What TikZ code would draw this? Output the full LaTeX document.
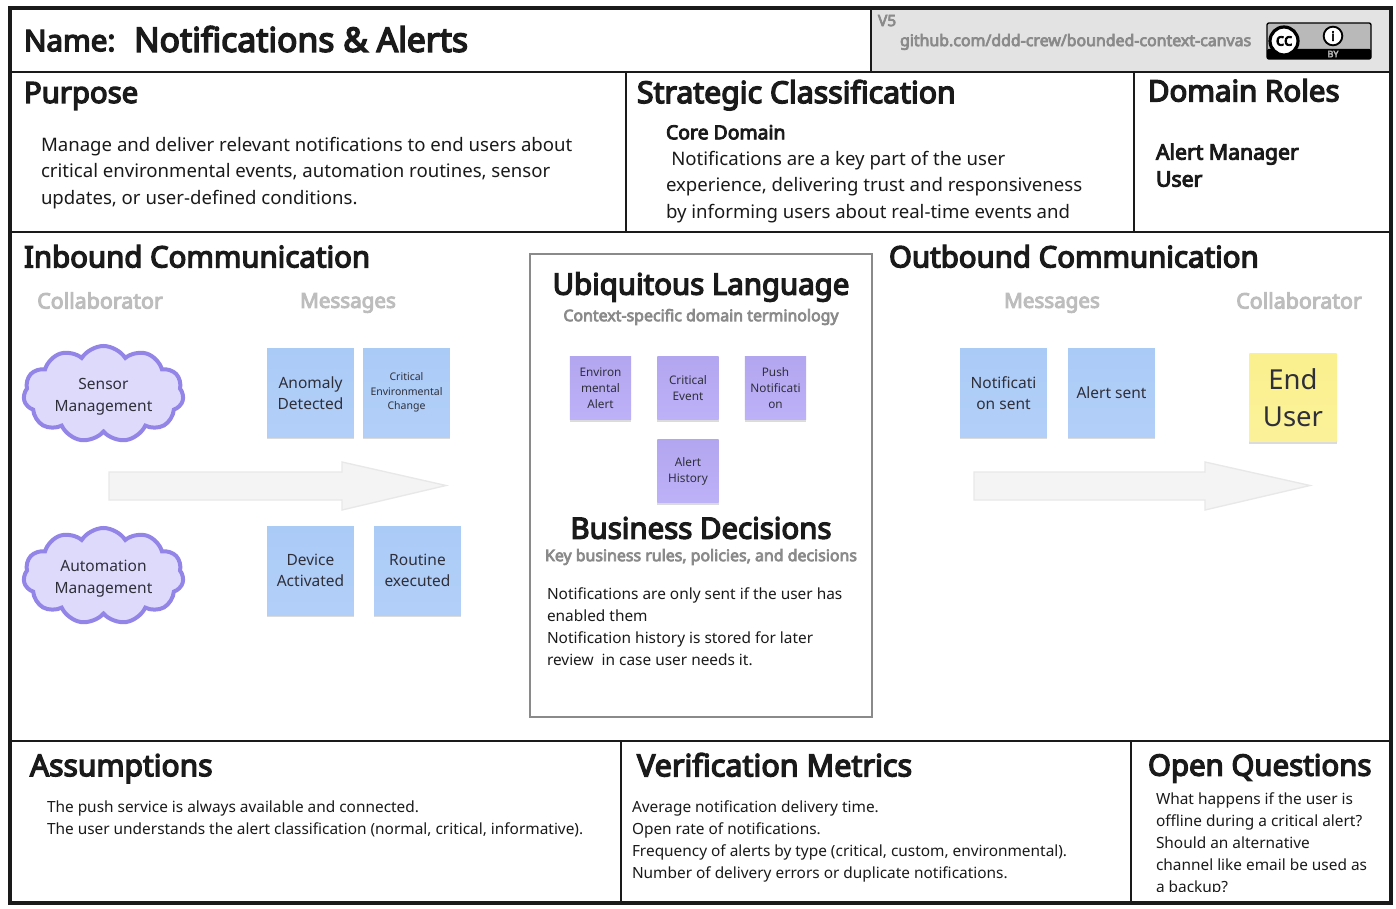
\documentclass[tikz,border=0pt]{standalone}
\usepackage{fontspec}
\setmainfont{Noto Sans}[BoldFont={Noto Sans},BoldFeatures={FakeBold=4.5}]
\usetikzlibrary{shapes.symbols,shadows}
\definecolor{ink}{HTML}{1A1A1A}
\definecolor{soft}{HTML}{2F2F3A}
\definecolor{hint}{HTML}{BDBDBD}
\definecolor{hintb}{HTML}{8A8A8A}
\definecolor{cloudline}{HTML}{9385E8}
\definecolor{cloudfill}{HTML}{DEDAFC}
\definecolor{noteblue}{HTML}{ABCBF7}
\definecolor{purpletop}{HTML}{B3A6F0}
\definecolor{purplebot}{HTML}{BDB1F8}
\definecolor{arrowline}{HTML}{E8E8E8}
\definecolor{arrowfill}{HTML}{F4F4F4}
\definecolor{noteyellow}{HTML}{FBF08E}
\newcommand{\pxs}[2]{\fontsize{\dimexpr#1pt*3/4\relax}{\dimexpr#2pt*3/4\relax}\selectfont}
\newcommand{\cloudlead}{\rule{0pt}{12.5pt}}
\tikzset{
  x=0.75pt,y=-0.75pt,
  frameline/.style={draw=ink,line width=2.6pt},
  innerline/.style={draw=ink,line width=1.7pt},
  label/.style={inner sep=0pt,outer sep=0pt,anchor=north west,align=left,text=ink},
  heading/.style={label,font=\bfseries\pxs{#1}{34}},
  heading/.default={29.5},
  bigheading/.style={inner sep=0pt,anchor=center,text=ink,font=\bfseries\pxs{29.4}{34}},
  subhead/.style={inner sep=0pt,anchor=center,text=hintb,font=\bfseries\pxs{15.9}{18}},
  greyhead/.style={inner sep=0pt,anchor=center,text=hint,font=\bfseries\pxs{#1}{24}},
  body/.style={label,font=\pxs{18.6}{26.4}},
  small/.style={label,font=\pxs{15.4}{22}},
  sticky/.style={inner sep=0pt,anchor=center,align=center,text=soft,draw=none,
    drop shadow={opacity=.14,shadow xshift=0pt,shadow yshift=-1.5pt,fill=black}},
  bluenote/.style={sticky,top color=noteblue,bottom color=noteblue!92!white,minimum width=65pt,minimum height=66.5pt,font=\pxs{15.5}{21}},
  purplenote/.style={sticky,top color=purpletop,bottom color=purplebot,minimum width=46pt,minimum height=47.5pt,font=\pxs{11.8}{16}},
  puffy/.style={cloud,cloud puffs=11,cloud puff arc=115,aspect=1.9,draw=cloudline,fill=cloudfill,line width=3pt,
    minimum width=120pt,minimum height=72pt,inner sep=0pt,align=center,text=soft,font=\pxs{15.5}{22}},
  bigarrow/.style={draw=arrowline,fill=arrowfill,line width=1pt},
}
\begin{document}
\begin{tikzpicture}
\useasboundingbox (0,0) rectangle (1396,909);
\fill[white] (0,0) rectangle (1396,909);
% header band
\fill[gray!22] (871,9) rectangle (1391,72);
% dividers
\draw[innerline] (11,72) -- (1391,72);
\draw[innerline] (11,232) -- (1391,232);
\draw[innerline] (11,741) -- (1391,741);
\draw[innerline] (871,9) -- (871,72);
\draw[innerline] (626,72) -- (626,232);
\draw[innerline] (1134,72) -- (1134,232);
\draw[innerline] (621,741) -- (621,903);
\draw[innerline] (1131,741) -- (1131,903);
\draw[frameline] (10,8) rectangle (1391,903);
% header
\node[heading=29.6] (nameA) at (24,30) {Name:};
\node[heading=33.7] (nameB) at (134,26) {Notifications \& Alerts};
\node[label,text=hintb,font=\bfseries\pxs{15.5}{18}] (ver) at (878,15) {V5};
\node[label,text=hintb,font=\bfseries\pxs{15.9}{18}] (repo) at (900,34) {github.com/ddd-crew/bounded-context-canvas};
% badge
\draw[fill=gray!55,draw=black,line width=1pt,rounded corners=1.5pt] (1267,23) rectangle (1371,59);
\fill[black,rounded corners=1pt] (1267,49) rectangle (1371,59);
\node[draw=black,fill=white,circle,line width=2.4pt,minimum size=21pt,inner sep=0pt,font=\bfseries\pxs{17}{18}] (cc) at (1284,41) {cc};
\node[draw=black,fill=white,circle,line width=1.4pt,minimum size=14pt,inner sep=0pt,font=\bfseries\pxs{13}{13}] (by) at (1333,36) {i};
\node[inner sep=0pt,text=gray!60,font=\bfseries\pxs{9}{10}] (bytext) at (1333,54) {BY};
% top row
\node[heading=29.3] (purpose) at (24,82) {Purpose};
\node[body] (purposeText) at (41,137) {Manage and deliver relevant notifications to end users about\\critical environmental events, automation routines, sensor\\updates, or user-defined conditions.};
\node[heading=30.2] (strategic) at (637,80) {Strategic Classification};
\node[label,font=\bfseries\pxs{19.4}{26.4}] (coreDomain) at (666,125) {Core Domain};
\node[body] (coreText) at (666,151) {\hspace*{4pt}Notifications are a key part of the user\\experience, delivering trust and responsiveness\\by informing users about real-time events and};
\node[heading=29.5] (roles) at (1148,79) {Domain Roles};
\node[label,font=\bfseries\pxs{21.2}{27}] (rolesText) at (1156,143.5) {Alert Manager\\User};
% inbound
\node[heading=29.4] (inbound) at (24,245) {Inbound Communication};
\node[greyhead=21.4] (collabIn) at (100,300.5) {Collaborator};
\node[greyhead=20.6] (msgIn) at (348,303) {Messages};
\node[puffy] (sensor) at (103.5,394) {\cloudlead Sensor\\Management};
\node[puffy] (automation) at (103.5,576) {\cloudlead Automation\\Management};
\node[bluenote] (anomaly) at (310.5,392.7) {Anomaly\\Detected};
\node[bluenote,font=\pxs{10.5}{14.5}] (critical) at (406.5,392.7) {Critical\\Environmental\\Change};
\node[bluenote] (device) at (310.5,570.7) {Device\\Activated};
\node[bluenote] (routine) at (417.5,570.7) {Routine\\executed};
\draw[bigarrow] (109,472) -- (342,472) -- (342,462) -- (446,485.5) -- (342,510) -- (342,500) -- (109,500) -- cycle;
% ubiquitous language
\draw[draw=hintb,line width=1.9pt] (530,254) rectangle (872,717);
\node[bigheading] (ubi) at (701,287) {Ubiquitous Language};
\node[subhead] (ubiSub) at (701,317) {Context-specific domain terminology};
\node[purplenote] (envAlert) at (600.5,388) {Environ\\mental\\Alert};
\node[purplenote] (critEvent) at (688,388) {Critical\\Event};
\node[purplenote] (push) at (775.5,388) {Push\\Notificati\\on};
\node[purplenote] (history) at (688,471) {Alert\\History};
\node[bigheading] (business) at (701,528) {Business Decisions};
\node[subhead] (businessSub) at (701,557) {Key business rules, policies, and decisions};
\node[small] (businessText) at (547,588) {Notifications are only sent if the user has\\enabled them\\Notification history is stored for later\\review\ \ in case user needs it.};
% outbound
\node[heading=29.4] (outbound) at (889,245) {Outbound Communication};
\node[greyhead=20.6] (msgOut) at (1052,303) {Messages};
\node[greyhead=21.4] (collabOut) at (1299,300.5) {Collaborator};
\node[bluenote] (notifSent) at (1003.5,392.7) {Notificati\\on sent};
\node[bluenote] (alertSent) at (1111.5,392.7) {Alert sent};
\node[sticky,top color=noteyellow,bottom color=noteyellow!90!white,minimum width=65.5pt,minimum height=66.5pt,font=\pxs{27.5}{37}] (endUser) at (1293,397.5) {End\\User};
\draw[bigarrow] (974,472) -- (1205,472) -- (1205,462) -- (1310,485.5) -- (1205,510) -- (1205,500) -- (974,500) -- cycle;
% bottom row
\node[heading=30] (assume) at (30,754) {Assumptions};
\node[small] (assumeText) at (47,801) {The push service is always available and connected.\\The user understands the alert classification (normal, critical, informative).};
\node[heading=30.5] (metrics) at (637,753) {Verification Metrics};
\node[small] (metricsText) at (632,801) {Average notification delivery time.\\Open rate of notifications.\\Frequency of alerts by type (critical, custom, environmental).\\Number of delivery errors or duplicate notifications.};
\node[heading=29.4] (open) at (1148,754) {Open Questions};
\begin{scope}
\clip (1140,780) rectangle (1385,891);
\node[small] (openText) at (1156,793) {What happens if the user is\\offline during a critical alert?\\Should an alternative\\channel like email be used as\\a backup?};
\end{scope}
\end{tikzpicture}
\end{document}
